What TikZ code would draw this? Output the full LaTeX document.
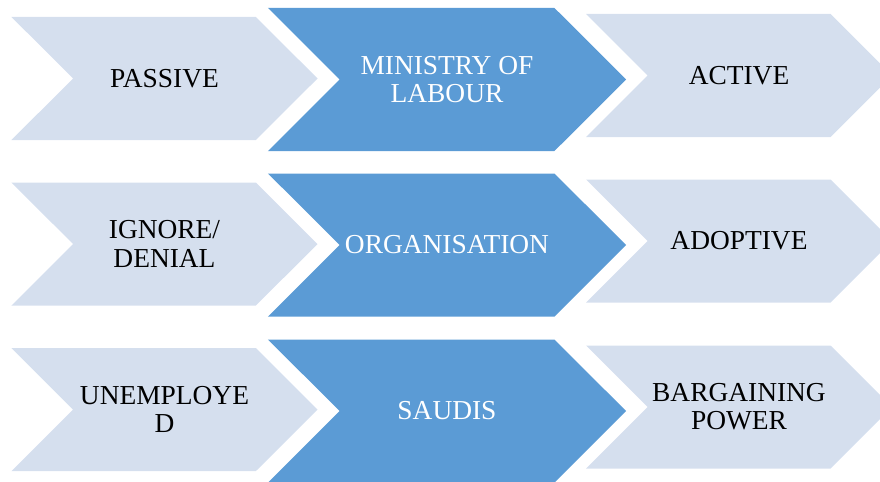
\documentclass[tikz,border=0pt]{standalone}
\usepackage{fontspec}
\setmainfont{Liberation Serif}
\usepackage{tikz}
\usetikzlibrary{positioning,shapes.symbols}
\definecolor{paleblue}{HTML}{D5DFEE}
\definecolor{midblue}{HTML}{5B9BD5}

\begin{document}
\begin{tikzpicture}[%
    node distance=5.65cm,
    align=center,
    font=\fontsize{15.6}{16}\selectfont,
    chevron/.style={%
      signal,
      signal from=west,
      signal to=east,
      signal pointer angle=90,
      inner sep=0pt,
      outer sep=0pt
    },
    sidebox/.style={%
      chevron,
      fill=paleblue,
      text=black,
      minimum width=6.12cm,
      minimum height=2.46cm
    },
    centrebox/.style={%
      chevron,
      fill=midblue,
      text=white,
      minimum width=7.16cm,
      minimum height=2.86cm
    }
  ]
    \clip (-3.29,1.57) rectangle (14.31,-8.07);

    \node[sidebox] (1) at (0,0) {PASSIVE};
    \node[centrebox, yshift=-0.02cm] (2) [right of=1] {MINISTRY OF\\LABOUR};
    \node[sidebox, node distance=5.84cm, yshift=0.08cm] (3) [right of=2] {ACTIVE};

    \node[sidebox, node distance=3.31cm] (4) [below of=1] {IGNORE/\\DENIAL};
    \node[centrebox, yshift=-0.02cm] (5) [right of=4] {ORGANISATION};
    \node[sidebox, node distance=5.84cm, yshift=0.08cm] (6) [right of=5] {ADOPTIVE};

    \node[sidebox, node distance=3.31cm] (7) [below of=4] {UNEMPLOYE\\D};
    \node[centrebox, yshift=-0.03cm] (8) [right of=7] {SAUDIS};
    \node[sidebox, node distance=5.84cm, yshift=0.08cm] (9) [right of=8] {BARGAINING\\POWER};
\end{tikzpicture}
\end{document}
